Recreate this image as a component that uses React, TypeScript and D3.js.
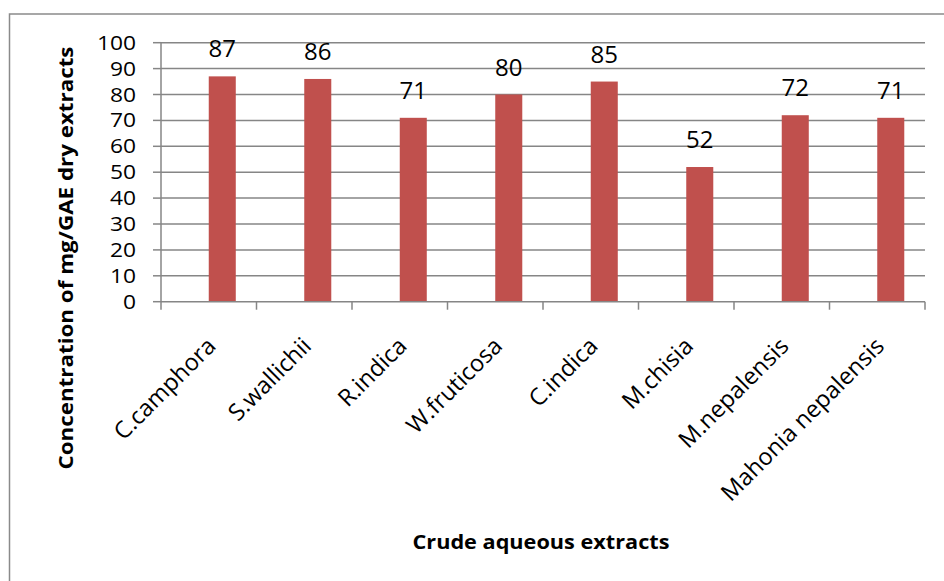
import React from "react";
import * as d3 from "d3";

const categories = ["C.camphora", "S.wallichii", "R.indica", "W.fruticosa", "C.indica", "M.chisia", "M.nepalensis", "Mahonia nepalensis"];
const values = [87, 86, 71, 80, 85, 52, 72, 71];
const yTicks = [0, 10, 20, 30, 40, 50, 60, 70, 80, 90, 100];
const yTitle = "Concentration of mg/GAE dry extracts";
const xTitle = "Crude aqueous extracts";

export default function App() {
  const W = 944, H = 581;
  const left = 161, right = 925, top = 42.7, bottom = 301.7;
  const x = d3.scaleBand<string>().domain(categories).range([left, right]).padding(0);
  const y = d3.scaleLinear().domain([0, 100]).range([bottom, top]);
  const bw = x.bandwidth();
  const barW = bw * 0.283;
  const font = "'Open Sans', 'Liberation Sans', sans-serif";
  const grid = "#868686";
  return (
    <svg width={W} height={H} style={{ position: "absolute", left: 0, top: 0, background: "#fff" }} fontFamily={font}>
      <rect x={9.5} y={14} width={W + 10} height={H + 10} fill="#fff" stroke="#8a8a8a" strokeWidth={1.5} />
      {yTicks.map((t) => (
        <g key={t}>
          {t > 0 && <line x1={left} x2={right} y1={y(t)} y2={y(t)} stroke={grid} strokeWidth={1.5} />}
          <line x1={153} x2={left} y1={y(t)} y2={y(t)} stroke={grid} strokeWidth={1.5} />
          <text transform={`translate(136,${y(t) + 7}) scale(1.14,1)`} textAnchor="end" fontSize={20} fill="#000">{t}</text>
        </g>
      ))}
      {values.map((v, i) => {
        const c = categories[i];
        const bx = (x(c) as number) + bw * 0.5;
        return (
          <g key={c}>
            <rect x={bx} y={y(v)} width={barW} height={bottom - y(v)} fill="#C0504D" />
            <text x={bx + barW / 2} y={y(v) - 19} textAnchor="middle" fontSize={24} fill="#000">{v}</text>
          </g>
        );
      })}
      <line x1={left} x2={left} y1={top} y2={bottom} stroke={grid} strokeWidth={1.5} />
      <line x1={left} x2={right} y1={bottom} y2={bottom} stroke={grid} strokeWidth={1.5} />
      {categories.concat([""]).map((c, i) => {
        const tx = left + i * bw;
        return <line key={"t" + i} x1={tx} x2={tx} y1={bottom} y2={bottom + 8} stroke={grid} strokeWidth={1.5} />;
      })}
      {categories.map((c) => {
        const cx = (x(c) as number) + bw / 2;
        return (
          <text key={"l" + c} transform={`translate(${cx - 4},${335}) rotate(-45)`} textAnchor="end" dy="0.75em" fontSize={23.5} fill="#000">{c}</text>
        );
      })}
      <text transform={`translate(73,258) rotate(-90)`} textAnchor="middle" fontSize={19} fontWeight="bold" fill="#000" textLength={423} lengthAdjust="spacingAndGlyphs">{yTitle}</text>
      <text x={541} y={549} textAnchor="middle" fontSize={19} fontWeight="bold" fill="#000" textLength={257} lengthAdjust="spacingAndGlyphs">{xTitle}</text>
    </svg>
  );
}
